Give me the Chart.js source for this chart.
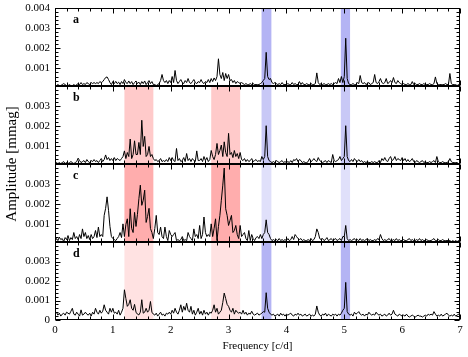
<!DOCTYPE html>
<html>
<head>
<meta charset="utf-8">
<script src="https://cdn.jsdelivr.net/npm/chart.js@4"></script>
<style>
  html, body { margin: 0; padding: 0; background: #fff; }
  #wrap { width: 468px; height: 357px; }
</style>
</head>
<body>
<div id="wrap"><canvas id="spec" width="468" height="357"></canvas></div>
<script>
// Frequency grid (c/d): one amplitude every fStep, from 0 to 7
var fStep = 0.025;

// Amplitudes, in units of 1e-4 (0.001 = 10)
var ampA = [
  1.5,1.5,2,1.5,1.5,2,2.5,2,1.5,1.5,2,1.5,1.5,2,1.5,2,2.5,2,3,2,
  2.5,2,3,2.5,2,3,2.5,3,2.5,3,2.5,3.5,3,3.5,4.5,5.5,5.8,4.5,3,2,
  3.5,2.5,3.6,2.5,3.2,2,3.5,2.5,4.5,3,2.5,3.8,2.5,3.5,2,3,3.8,2.5,3.2,2,
  3.5,2.5,3.8,2,3,4,2.5,3.5,2,2,1.5,2,2.5,4,7,4,3,4,2.5,4,
  3,6,3,9,4,2.5,3.5,4.5,3,2.5,4,3,5,3,2.5,3.5,4.5,3,2.5,3.5,
  3,4.5,3,2.5,3.5,3,4.5,3,5,3.5,5.3,4,6,14.8,7,5,8,4,7.5,5,
  7,4,4.5,3,4,2.5,3.5,3,2.5,3,2.5,2,2.5,2,2,2.5,2,2.5,2,2,
  2,2,2.5,3,4,5,18,6,4.5,5,3,2.5,3,2.5,2,2.5,2,3,2,2,
  2,2.5,2,2,3,2,2.5,2,2,3.5,2,3,2,2,2.5,2,2,2.5,2,2,
  2.5,7.8,3,2,2.5,2,2.5,2,2,2.5,2,2.5,2,2.5,3,2.5,5,3,6,3,
  6,25,5,2.5,2,2,2.5,2,2,3,2.5,6.5,3,2.5,3,2,2.5,3,2,2.5,
  3,7,3,2.5,3.5,5,3,2.5,3,5,2.5,3,4,3,5.5,3,2.5,4,3,2.5,
  2,2.5,2,2,2.5,2,2,3.5,2,2.5,2,2,2.5,2,2,2.5,2,2,2,2.5,
  2,2,2.5,5.8,2.5,2,2,2,2,2,2.5,2,2,7.5,2.5,2,2,2,1.5,2,
  2
];
var ampB = [
  1.5,2,1.5,2,1.5,2,2.5,1.5,2,1.5,2,2.5,2,1.5,2,2.5,4.2,3,2,2.5,
  3,2,3.5,2.5,2,3,2.5,3.5,2.5,3,2,3,4,2.5,3.5,5.8,3.5,4.5,3,4,
  3,4.5,3,4,3.5,3,4,5,7.8,4,7,5,13.7,4,6,12.8,6,6,12,6,
  23,10,15,5,6,10,5,6,4,3,3.5,2.5,3,4,2.5,3,2.5,3.5,2.5,4.5,
  3,4.5,3,2.5,9,3,4,2.5,3,4.5,2.5,6.5,3,4,2.5,4,3,2.5,7.8,3,
  3,4,2.5,5,3,4.5,2.5,3.5,8,5,3.5,6,11.5,6,8,10.7,5,12.3,7,5,
  16.5,6,7,4.5,8,5,6.5,4,7,3.5,3,4,2.5,3.5,2.5,3,4,2.5,3,3.5,
  2.5,3,2.5,5,3.5,5,20.3,5,3,2.5,2,2.5,2,3,2.5,2,2.5,3,2,2.5,
  2,2.5,2,3,2,3.5,3,4,2.5,3.5,3,2,2.5,2,2,2.5,4,2.5,3,4,
  3,2.5,4.5,3,2.5,2,2.5,3,2,3,2.5,2,6,3,2.5,3,3.5,5,3,4,
  5,20.3,5,3,2.5,3.5,2.5,4,3,2.5,3.5,2.5,3,2,2.5,2,2.5,2,2,2.5,
  2,2.5,2,2,3,2,4,3,4.5,3,2.5,4,5,3,3.5,5,3,4,3.5,3,
  4.5,3,4,2.5,3.5,2.5,3,4,2.5,2,3,2.5,2,2.5,3,2,2.5,2,2,2.5,
  2,2.5,3,2,5,2.5,2,2,2.5,2,2,2,2.5,4,2.5,2,2,2,2,1.5,
  2
];
var ampC = [
  1.5,3,2,3.7,2.5,3,1.5,3.5,2.5,4.5,2,3.5,2.5,6,3,4,2.5,5,3,7.8,
  4,6,3,4.5,2.5,5,3,4,7,3.5,8.7,4,5,4,14.5,18,23.7,17,9,4,
  3,2.5,2,3,4,6,3.5,10.3,4,10,12.8,4,17.8,8,6,16,9,15,22.8,29.5,
  19.5,22,27,11,14,18,8,6,3,8,14.5,6,5,8.7,4,3,8.7,4,2,7,
  5,4,5,6,2,2.5,2,2.5,4,2,2.5,2,6,4,3,2,7.8,4,5,3,
  9.5,3,5,13.7,6,4,5,4,10.3,4,8,12.8,2,9,14.5,22,29.5,38,17.8,14.5,
  9.5,12,14.5,6,7,9.5,5,3,9.5,4,5,6,3,2,7,2,5,3,2,3.5,
  4,3,5,3,5,6,12.3,6,5,3,2,2.5,2,2.5,2,3,2,2.5,2,2.5,
  2,3,2,2.5,4,2.5,5,4,3,2.5,3,2,2.5,2,2,2.5,2,3,2,2.5,
  4,7.8,6,3,2.5,3,2,2.5,3.5,2,2.5,3,2,2.5,3,2,2.5,3,2,4,
  4,9.5,3,2,2.5,2,2.5,3,2,2.5,2,3,2,2.5,2,2.5,3,2,2.5,2,
  2,2.5,2,3,2.5,5,3,2,2.5,2,2.5,3,2,2,2.5,2,3,2,2.5,2,
  2,2.5,2,2,2.5,3,2,2.5,2,2,2.5,2,3,2,2.5,2,2,2.5,2,2,
  2,2.5,3,2,2,2.5,2,2,2.5,2,2,2,2,2,1.5,2,1.5,2,1.5,2,
  1.5
];
var ampD = [
  3,4,2.5,3.5,2,3,3.5,2.5,4,3.5,3,4.5,6,3,2.5,4,3,2,5.2,2.5,
  3,4,3,2.5,3.5,2,4,3,6,4,3,5,3.5,4.5,7.8,5,4,3,6,4,
  6,3.5,4,3,5,2.5,4,6,15.5,11,7,8,10.4,6,5,8,4,3,2.6,4,
  10.4,3.5,4,6,4,5,9.5,4,3,2.5,3.5,2,3,4,2.5,3,2,3.5,3,4,
  3,5,3.5,6,4,3,5,7.8,4,7,5,8.6,5,4,7,3,5,2.5,4,6,
  3,4.5,2.5,5,3,4,2.5,4,3.5,5,7.8,4,6,3,4,5,9,13.8,11,8,
  7,5,4,6,3,5,4,3.5,4,3,5,3,4,2.5,3.5,3,4.5,3,2.5,3,
  3.5,2.5,3,3.5,4.3,4,14,6,4,3,2.5,3,2,2.5,3,2,3.5,2.5,3,2,
  3,2.5,3,3.5,2.5,2,3,2.5,3.5,2.5,3,2,2.5,3,2,2.5,3,2,2.5,2,
  3,7.2,4,2.5,2,3,2.5,3.5,2,3,2.5,2,3,2.5,3,2,3,2.5,3.5,5,
  6,19.3,4.3,3,2.5,3,2,4,3,3.5,4.3,3,2.5,3,2,3,2.5,4,3,2.5,
  3,2.5,4,3,2.5,3,2,2.5,3,2,2.5,3.5,2.5,3,5,3,2.5,2,3,2.5,
  2,2.5,2,3,2,1.5,2,2.5,2,1.5,2,2.5,2,2,1.5,2,2.5,2,3,2.5,
  3,2.5,4.3,3,2,2.5,2,3,2,2.5,3,3.5,2.5,2,2.5,2,3,2,2.5,3,
  2
];

// Panels, top to bottom
var panelIds = ['ya', 'yb', 'yc', 'yd'];
var panelLetters = ['a', 'b', 'c', 'd'];
var panelAmps = [ampA, ampB, ampC, ampD];
var yMins = [0.00013, 0.00013, 0.00013, 0];
var yTopLabel = [4, 3, 3, 3]; // highest labelled tick, in 0.001

// Highlighted frequency ranges (c/d)
var redBands = [[1.2, 1.7], [2.7, 3.2]];
var blueBands = [[3.57, 3.74], [4.94, 5.1]];
var redFill = [null, '#ffcaca', '#ffadad', '#ffe2e2'];
var blueFill = ['#b4b4f4', '#c8c8f6', '#e0e0fa', '#b4b4f4'];

var serif = '"Liberation Serif", "DejaVu Serif", serif';
Chart.defaults.font.family = serif;
Chart.defaults.color = '#000';

function toPoints(amp) {
  return amp.map(function(v, i) { return { x: i * fStep, y: v / 10000 }; });
}

function makeY(i) {
  return {
    type: 'linear',
    position: 'left',
    stack: 'panels',
    stackWeight: 1,
    min: yMins[i],
    max: 0.004,
    afterFit: function(s) {
      s.width = 55;
      s.paddingTop = 0;
      s.paddingBottom = 0;
    },
    grid: { display: false, drawTicks: false },
    border: { display: false },
    ticks: {
      stepSize: 0.001,
      includeBounds: false,
      padding: 5,
      autoSkip: false,
      font: { size: 11 },
      callback: function(v) {
        var k = Math.round(v * 1000);
        if (k > yTopLabel[i]) return '';
        return k === 0 ? '0' : (k / 1000).toFixed(3);
      }
    }
  };
}

// Shaded bands, inward ticks, frames, panel letters and the y title
var panelDecor = {
  id: 'panelDecor',
  beforeDatasetsDraw: function(chart) {
    var ctx = chart.ctx, xs = chart.scales.x;
    ctx.save();
    panelIds.forEach(function(id, i) {
      var ys = chart.scales[id];
      function band(b, col) {
        if (!col) return;
        var x0 = xs.getPixelForValue(b[0]), x1 = xs.getPixelForValue(b[1]);
        ctx.fillStyle = col;
        ctx.fillRect(x0, ys.top, x1 - x0, ys.bottom - ys.top);
      }
      redBands.forEach(function(b) { band(b, redFill[i]); });
      blueBands.forEach(function(b) { band(b, blueFill[i]); });
    });
    ctx.restore();
  },
  afterDraw: function(chart) {
    var ctx = chart.ctx, xs = chart.scales.x, area = chart.chartArea;
    ctx.save();
    ctx.strokeStyle = '#000';
    ctx.fillStyle = '#000';
    ctx.lineWidth = 1;
    var left = Math.round(area.left) + 0.5, right = Math.round(area.right) - 0.5;
    panelIds.forEach(function(id, i) {
      var ys = chart.scales[id];
      var top = Math.round(ys.top) + 0.5, bot = Math.round(ys.bottom) - 0.5;
      ctx.beginPath();
      for (var k = 0; k <= 35; k++) {
        var px = Math.round(xs.getPixelForValue(k * 0.2)) + 0.5;
        var len = (k % 5 === 0) ? 5 : 3;
        ctx.moveTo(px, top); ctx.lineTo(px, top + len);
        ctx.moveTo(px, bot); ctx.lineTo(px, bot - len);
      }
      for (var m = 0; m <= 20; m++) {
        var val = m * 0.0002;
        if (val < ys.min) continue;
        var py = Math.round(ys.getPixelForValue(val)) + 0.5;
        var len2 = (m % 5 === 0) ? 5 : 3;
        ctx.moveTo(left, py); ctx.lineTo(left + len2, py);
        ctx.moveTo(right, py); ctx.lineTo(right - len2, py);
      }
      ctx.stroke();
      ctx.strokeRect(left, top, right - left, bot - top);
      ctx.font = 'bold 12px ' + serif;
      ctx.textBaseline = 'middle';
      ctx.textAlign = 'left';
      ctx.fillText(panelLetters[i], area.left + 18, ys.top + 12);
    });
    ctx.translate(12, (area.top + area.bottom) / 2);
    ctx.rotate(-Math.PI / 2);
    ctx.textAlign = 'center';
    ctx.textBaseline = 'middle';
    ctx.font = '15px ' + serif;
    ctx.fillText('Amplitude [mmag]', 0, 0);
    ctx.restore();
  }
};

var scales = {
  x: {
    type: 'linear',
    position: 'bottom',
    min: 0,
    max: 7,
    afterFit: function(s) { s.height = 37; },
    grid: { display: false, drawTicks: false },
    border: { display: false },
    ticks: { stepSize: 1, padding: 4, font: { size: 11 } },
    title: {
      display: true,
      text: 'Frequency [c/d]',
      font: { size: 11 },
      padding: { top: 0, bottom: 4 }
    }
  }
};
// stacked axes are laid out bottom-up, so add the lowest panel first
for (var p = panelIds.length - 1; p >= 0; p--) {
  scales[panelIds[p]] = makeY(p);
}
var datasets = [];
panelIds.forEach(function(id, i) {
  datasets.push({
    label: panelLetters[i],
    data: toPoints(panelAmps[i]),
    yAxisID: id,
    borderColor: '#000',
    borderWidth: 1,
    pointRadius: 0,
    tension: 0,
    fill: false
  });
});

var ctx = document.getElementById('spec').getContext('2d');
var specChart = new Chart(ctx, {
  type: 'line',
  data: { datasets: datasets },
  options: {
    responsive: false,
    animation: false,
    layout: { padding: { top: 8, right: 8, left: 0, bottom: 0 } },
    plugins: { legend: { display: false }, tooltip: { enabled: false } },
    scales: scales
  },
  plugins: [panelDecor]
});
</script>
</body>
</html>
